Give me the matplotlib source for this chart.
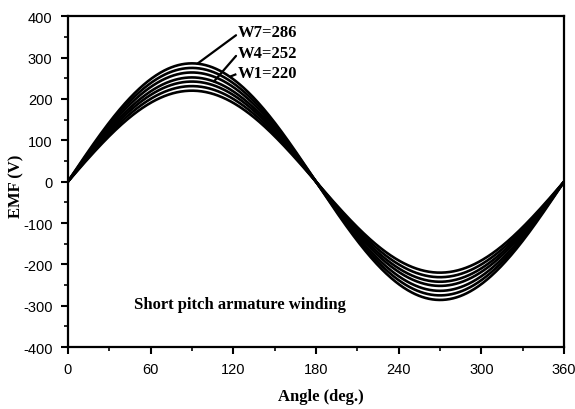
import matplotlib

matplotlib.use("Agg")
import matplotlib.pyplot as plt
import numpy as np
from matplotlib.ticker import MultipleLocator

# peak EMF of each winding curve (V), W1 .. W7
AMPLITUDES = [220, 231, 242, 252, 264, 275, 286]
LABELS = ["W7=286", "W4=252", "W1=220"]
X_TICKS = [0, 60, 120, 180, 240, 300, 360]
Y_TICKS = [-400, -300, -200, -100, 0, 100, 200, 300, 400]

SERIF = ["Liberation Serif", "DejaVu Serif"]
SANS = ["Liberation Sans", "DejaVu Sans"]

plt.rcParams["axes.unicode_minus"] = False

angle = np.linspace(0, 360, 721)

fig = plt.figure(figsize=(5.75, 4.1), dpi=100)
ax = fig.add_axes([0.118, 0.151, 0.863, 0.807])

for amp in AMPLITUDES:
    ax.plot(angle, amp * np.sin(np.radians(angle)), color="black", lw=1.9,
            solid_capstyle="butt")

ax.set_xlim(0, 360)
ax.set_ylim(-400, 400)
ax.set_xticks(X_TICKS)
ax.set_yticks(Y_TICKS)
ax.xaxis.set_minor_locator(MultipleLocator(30))
ax.yaxis.set_minor_locator(MultipleLocator(50))
ax.tick_params(which="major", direction="out", length=5, width=1.5, pad=6)
ax.tick_params(which="minor", direction="out", length=3, width=1.2)
for lab in ax.get_xticklabels() + ax.get_yticklabels():
    lab.set_family(SANS)
    lab.set_fontsize(10.5)
for sp in ax.spines.values():
    sp.set_linewidth(1.6)

ax.set_xlabel("Angle (deg.)", family=SERIF, fontsize=12, fontweight="bold")
ax.set_ylabel("EMF (V)", family=SERIF, fontsize=12, fontweight="bold")
ax.xaxis.set_label_coords(0.51, -0.125)
ax.yaxis.set_label_coords(-0.087, 0.49)

# label lines, pointing onto the W7 / W4 / W1 curves
targets = [(94, AMPLITUDES[6]), (106, AMPLITUDES[3]), (None, None)]
text_pos = [(123, 362), (123, 312), (123, 262)]
for lab, (tx, ty), (cx, amp) in zip(LABELS, text_pos, targets):
    ax.text(tx, ty, lab, family=SERIF, fontsize=12, fontweight="bold",
            ha="left", va="center")
    if cx is not None:
        cy = amp * np.sin(np.radians(cx))
        ax.annotate("", xy=(cx, cy), xytext=(tx - 1, ty - 8),
                    arrowprops=dict(arrowstyle="-", lw=1.6, color="black",
                                    shrinkA=0, shrinkB=0))
ax.plot([118.5, 121.5], [255, 259], color="black", lw=1.6)

ax.text(48, -296, "Short pitch armature winding", family=SERIF, fontsize=12,
        fontweight="bold", ha="left", va="center")

fig.savefig("out.png", dpi=100)
